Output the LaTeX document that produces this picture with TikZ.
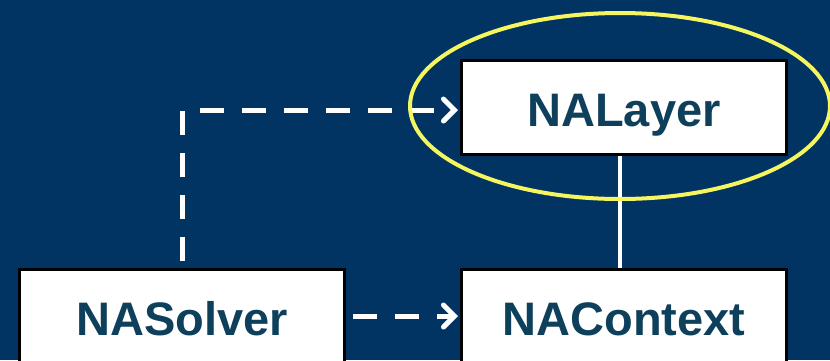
\documentclass[tikz,border=0pt]{standalone}
\usepackage{fontspec}
\setmainfont{Liberation Sans}
\usetikzlibrary{arrows.meta,calc}
\definecolor{bg}{RGB}{1,52,98}
\definecolor{txt}{RGB}{14,64,92}
\definecolor{ring}{RGB}{245,245,95}
\tikzset{
  cls/.style={draw=black, line width=3pt, fill=white, minimum width=325pt, minimum height=94pt,
    inner sep=0pt, text height=38pt, text depth=0pt, text=txt, font=\fontsize{47}{50}\selectfont\bfseries},
  dep/.style={draw=white, line width=5pt, dash pattern=on 24pt off 18pt,
    -{Straight Barb[length=11pt,width=22pt,line cap=round,line width=5pt]}},
  link/.style={draw=white, line width=4.5pt},
  hl/.style={draw=ring, line width=4pt}
}
\begin{document}
\begin{tikzpicture}[x=1pt,y=-1pt]
\useasboundingbox[fill=bg] (0,0) rectangle (830,360);
\node[cls] (layer) at (624,107) {NALayer};
\node[cls] (solver) at (182,316) {NASolver};
\node[cls] (context) at (624,316) {NAContext};
\draw[link] ([xshift=-4pt]layer.south) -- ([xshift=-4pt]context.north);
\draw[dep, shorten <=7pt, shorten >=2pt] (solver.east) -- (context.west);
\draw[dep, shorten <=7pt, shorten >=2pt] (solver.north) |- ([yshift=-3pt]layer.west);
\draw[hl] (620,106) ellipse [x radius=210, y radius=93];
\end{tikzpicture}
\end{document}
